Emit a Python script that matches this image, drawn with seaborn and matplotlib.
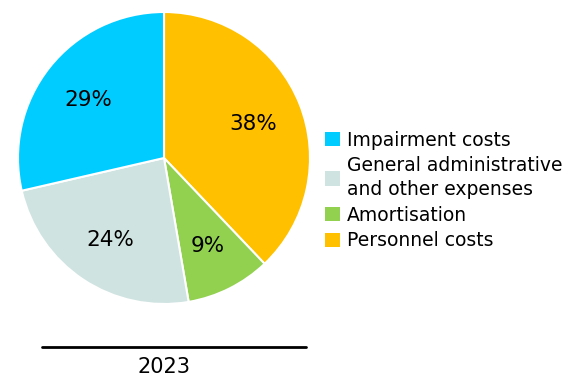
import matplotlib
matplotlib.use("Agg")
import matplotlib.pyplot as plt
import seaborn as sns
from matplotlib.patches import Patch
from matplotlib.lines import Line2D

# data (clockwise from 12 o'clock), shares in %
categories = ["Personnel costs", "Amortisation",
              "General administrative\nand other expenses", "Impairment costs"]
shares = [37.9, 9.4, 24.1, 28.6]
colors = ["#FFC000", "#92D050", "#CFE3E0", "#00CCFF"]
year_label = "2023"

sns.set_theme(style="white")
plt.rcParams["font.family"] = ["DejaVu Sans"]
plt.rcParams["text.color"] = "black"

W, H = 570, 376
fig = plt.figure(figsize=(W / 100, H / 100), dpi=100)

# pie centre (164, 158) px, radius 146 px
cx, cy, r = 164, 158, 146
ax = fig.add_axes([(cx - r) / W, (H - cy - r) / H, 2 * r / W, 2 * r / H])
wedges, texts, autotexts = ax.pie(
    shares, colors=colors, startangle=90, counterclock=False,
    autopct="%1.0f%%", pctdistance=0.66,
    wedgeprops={"edgecolor": "white", "linewidth": 1.5},
    textprops={"fontsize": 15.5, "color": "black"},
)
for t in autotexts:
    x, y = t.get_position()
    t.set_position((x, y - 0.015))
ax.set_xlim(-1, 1)
ax.set_ylim(-1, 1)
ax.set_aspect("equal")
ax.axis("off")

# legend (reverse order)
handles = [Patch(facecolor=c, edgecolor="none") for c in colors][::-1]
labels = categories[::-1]
leg = fig.legend(handles, labels, loc="center left",
                 bbox_to_anchor=(325 / W, (H - 190.5) / H),
                 frameon=False, fontsize=13.5, handlelength=0.8, handleheight=0.8,
                 handletextpad=0.35, labelspacing=0.36, borderaxespad=0, borderpad=0)
for t in leg.get_texts():
    t.set_color("black")
    t.set_linespacing(1.3)

# year axis line and label
fig.add_artist(Line2D([42 / W, 306 / W], [(H - 347) / H, (H - 347) / H],
                      color="black", linewidth=2, transform=fig.transFigure))
fig.text(164 / W, (H - 367) / H, year_label, ha="center", va="center", fontsize=15)

fig.savefig("out.png", dpi=100)
